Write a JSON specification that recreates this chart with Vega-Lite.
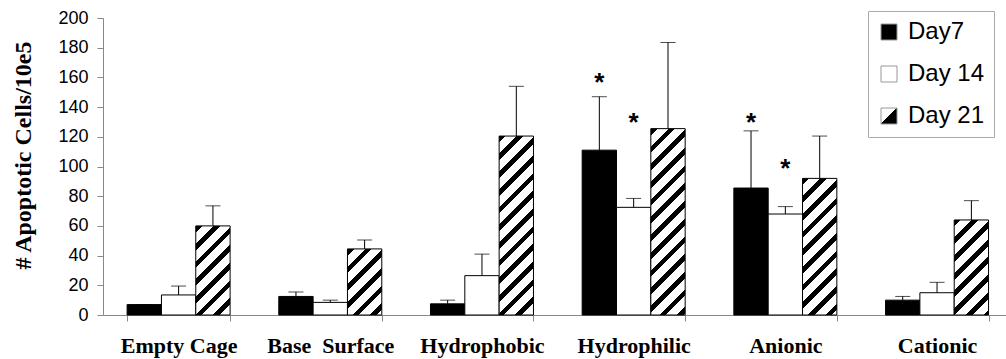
{
  "$schema": "https://vega.github.io/schema/vega-lite/v6.json",
  "width": 903,
  "height": 297,
  "autosize": "none",
  "padding": {"left": 103, "top": 18, "right": 0, "bottom": 44},
  "background": "white",
  "config": {"view": {"stroke": null}, "axis": {"grid": false}},
  "datasets": {
    "bars": [
      {"group": "Empty Cage", "series": "Day7", "value": 7, "err": 7},
      {"group": "Empty Cage", "series": "Day 14", "value": 13.5, "err": 19.5},
      {"group": "Empty Cage", "series": "Day 21", "value": 60, "err": 73.5},
      {"group": "Base Surface", "series": "Day7", "value": 12.5, "err": 15.5},
      {"group": "Base Surface", "series": "Day 14", "value": 8.5, "err": 10},
      {"group": "Base Surface", "series": "Day 21", "value": 44.5, "err": 50.5},
      {"group": "Hydrophobic", "series": "Day7", "value": 7.5, "err": 10},
      {"group": "Hydrophobic", "series": "Day 14", "value": 26.5, "err": 41},
      {"group": "Hydrophobic", "series": "Day 21", "value": 120.5, "err": 154},
      {"group": "Hydrophilic", "series": "Day7", "value": 111, "err": 147},
      {"group": "Hydrophilic", "series": "Day 14", "value": 72.5, "err": 78.5},
      {"group": "Hydrophilic", "series": "Day 21", "value": 125.5, "err": 183.5},
      {"group": "Anionic", "series": "Day7", "value": 85.5, "err": 124},
      {"group": "Anionic", "series": "Day 14", "value": 68, "err": 73},
      {"group": "Anionic", "series": "Day 21", "value": 92, "err": 120.5},
      {"group": "Cationic", "series": "Day7", "value": 10, "err": 12.5},
      {"group": "Cationic", "series": "Day 14", "value": 15, "err": 22},
      {"group": "Cationic", "series": "Day 21", "value": 64, "err": 77}
    ],
    "stars": [
      {"group": "Hydrophilic", "series": "Day7", "y": 161},
      {"group": "Hydrophilic", "series": "Day 14", "y": 134},
      {"group": "Anionic", "series": "Day7", "y": 134},
      {"group": "Anionic", "series": "Day 14", "y": 103}
    ]
  },
  "encoding": {
    "x": {
      "field": "group",
      "type": "nominal",
      "sort": ["Empty Cage", "Base Surface", "Hydrophobic", "Hydrophilic", "Anionic", "Cationic"],
      "scale": {"domain": ["Empty Cage", "Base Surface", "Hydrophobic", "Hydrophilic", "Anionic", "Cationic"], "paddingInner": 0.321, "paddingOuter": 0.137, "align": 0.58},
      "axis": {
        "title": null,
        "labelAngle": 0,
        "labelFont": "Liberation Serif",
        "labelFontWeight": "bold",
        "labelFontSize": 22,
        "labelColor": "#000",
        "labelBaseline": "alphabetic",
        "labelPadding": 31,
        "labelOverlap": false,
        "tickBand": "extent",
        "tickSize": 6,
        "tickColor": "#888",
        "domainColor": "#888",
        "labelExpr": "datum.label === 'Base Surface' ? 'Base\u00a0 Surface' : datum.label"
      }
    },
    "xOffset": {
      "field": "series",
      "type": "nominal",
      "sort": ["Day7", "Day 14", "Day 21"],
      "scale": {"domain": ["Day7", "Day 14", "Day 21"], "paddingInner": 0, "paddingOuter": 0}
    }
  },
  "layer": [
    {
      "data": {"name": "bars"},
      "mark": {"type": "bar", "stroke": "#000", "strokeWidth": 1},
      "encoding": {
        "y": {
          "field": "value",
          "type": "quantitative",
          "scale": {"domain": [0, 200], "nice": false},
          "axis": {"title": "# Apoptotic Cells/10e5", "titleFont": "Liberation Serif", "titleFontWeight": "bold", "titleFontSize": 24, "titleColor": "#000", "titleX": -73, "titleY": 137, "titleBaseline": "alphabetic", "titleAlign": "center", "titleAngle": -90, "values": [0, 20, 40, 60, 80, 100, 120, 140, 160, 180, 200], "labelOverlap": false, "labelSeparation": -10, "labelFont": "Liberation Sans", "labelFontSize": 18, "labelColor": "#000", "tickSize": 6, "labelPadding": 9, "tickColor": "#888", "domainColor": "#888"}
        },
        "fill": {
          "field": "series",
          "type": "nominal",
          "scale": {
            "domain": ["Day7", "Day 14", "Day 21"],
            "range": ["#000", "#fff", {"expr": "{gradient:'linear',x1:0,y1:0,x2:1,y2:1,stops:[{offset:0,color:'#fff'},{offset:0.5,color:'#fff'},{offset:0.5,color:'#000'},{offset:1,color:'#000'}]}"}]
          },
          "legend": {
            "title": null,
            "orient": "none",
            "legendX": 765,
            "legendY": -7,
            "direction": "vertical",
            "symbolType": "square",
            "symbolSize": 256,
            "symbolStrokeColor": "#999",
            "symbolStrokeWidth": 1,
            "labelFont": "Liberation Sans",
            "labelFontSize": 24,
            "labelColor": "#000",
            "labelOffset": 7,
            "rowPadding": 18,
            "padding": 9,
            "strokeColor": "#aaa",
            "fillColor": "#fff"
          },
          "condition": [
            {"test": "datum.series === 'Day 21' && datum.group === 'Empty Cage'", "value": {"gradient": "linear", "x1": 0, "y1": 0, "x2": 0.4648, "y2": 1.2062, "stops": [
              {"offset": 0, "color": "#000"}, {"offset": 0.0545, "color": "#000"}, {"offset": 0.0545, "color": "#fff"}, {"offset": 0.1434, "color": "#fff"},
              {"offset": 0.1434, "color": "#000"}, {"offset": 0.1979, "color": "#000"}, {"offset": 0.1979, "color": "#fff"}, {"offset": 0.2868, "color": "#fff"},
              {"offset": 0.2868, "color": "#000"}, {"offset": 0.3413, "color": "#000"}, {"offset": 0.3413, "color": "#fff"}, {"offset": 0.4302, "color": "#fff"},
              {"offset": 0.4302, "color": "#000"}, {"offset": 0.4847, "color": "#000"}, {"offset": 0.4847, "color": "#fff"}, {"offset": 0.5736, "color": "#fff"},
              {"offset": 0.5736, "color": "#000"}, {"offset": 0.6281, "color": "#000"}, {"offset": 0.6281, "color": "#fff"}, {"offset": 0.717, "color": "#fff"},
              {"offset": 0.717, "color": "#000"}, {"offset": 0.7715, "color": "#000"}, {"offset": 0.7715, "color": "#fff"}, {"offset": 0.8604, "color": "#fff"},
              {"offset": 0.8604, "color": "#000"}, {"offset": 0.9149, "color": "#000"}, {"offset": 0.9149, "color": "#fff"}, {"offset": 1, "color": "#fff"}]}},
            {"test": "datum.series === 'Day 21' && datum.group === 'Base Surface'", "value": {"gradient": "linear", "x1": 0, "y1": 0, "x2": 0.6215, "y2": 1.1966, "stops": [
              {"offset": 0, "color": "#000"}, {"offset": 0.067, "color": "#000"}, {"offset": 0.067, "color": "#fff"}, {"offset": 0.1762, "color": "#fff"},
              {"offset": 0.1762, "color": "#000"}, {"offset": 0.2432, "color": "#000"}, {"offset": 0.2432, "color": "#fff"}, {"offset": 0.3525, "color": "#fff"},
              {"offset": 0.3525, "color": "#000"}, {"offset": 0.4194, "color": "#000"}, {"offset": 0.4194, "color": "#fff"}, {"offset": 0.5287, "color": "#fff"},
              {"offset": 0.5287, "color": "#000"}, {"offset": 0.5957, "color": "#000"}, {"offset": 0.5957, "color": "#fff"}, {"offset": 0.705, "color": "#fff"},
              {"offset": 0.705, "color": "#000"}, {"offset": 0.7719, "color": "#000"}, {"offset": 0.7719, "color": "#fff"}, {"offset": 0.8812, "color": "#fff"},
              {"offset": 0.8812, "color": "#000"}, {"offset": 0.9482, "color": "#000"}, {"offset": 0.9482, "color": "#fff"}, {"offset": 1, "color": "#fff"}]}},
            {"test": "datum.series === 'Day 21' && datum.group === 'Hydrophobic'", "value": {"gradient": "linear", "x1": 0, "y1": 0, "x2": 0.2206, "y2": 1.1496, "stops": [
              {"offset": 0, "color": "#000"}, {"offset": 0.0315, "color": "#000"}, {"offset": 0.0315, "color": "#fff"}, {"offset": 0.083, "color": "#fff"},
              {"offset": 0.083, "color": "#000"}, {"offset": 0.1145, "color": "#000"}, {"offset": 0.1145, "color": "#fff"}, {"offset": 0.166, "color": "#fff"},
              {"offset": 0.166, "color": "#000"}, {"offset": 0.1975, "color": "#000"}, {"offset": 0.1975, "color": "#fff"}, {"offset": 0.249, "color": "#fff"},
              {"offset": 0.249, "color": "#000"}, {"offset": 0.2805, "color": "#000"}, {"offset": 0.2805, "color": "#fff"}, {"offset": 0.332, "color": "#fff"},
              {"offset": 0.332, "color": "#000"}, {"offset": 0.3635, "color": "#000"}, {"offset": 0.3635, "color": "#fff"}, {"offset": 0.415, "color": "#fff"},
              {"offset": 0.415, "color": "#000"}, {"offset": 0.4465, "color": "#000"}, {"offset": 0.4465, "color": "#fff"}, {"offset": 0.4981, "color": "#fff"},
              {"offset": 0.4981, "color": "#000"}, {"offset": 0.5296, "color": "#000"}, {"offset": 0.5296, "color": "#fff"}, {"offset": 0.5811, "color": "#fff"},
              {"offset": 0.5811, "color": "#000"}, {"offset": 0.6126, "color": "#000"}, {"offset": 0.6126, "color": "#fff"}, {"offset": 0.6641, "color": "#fff"},
              {"offset": 0.6641, "color": "#000"}, {"offset": 0.6956, "color": "#000"}, {"offset": 0.6956, "color": "#fff"}, {"offset": 0.7471, "color": "#fff"},
              {"offset": 0.7471, "color": "#000"}, {"offset": 0.7786, "color": "#000"}, {"offset": 0.7786, "color": "#fff"}, {"offset": 0.8301, "color": "#fff"},
              {"offset": 0.8301, "color": "#000"}, {"offset": 0.8616, "color": "#000"}, {"offset": 0.8616, "color": "#fff"}, {"offset": 0.9131, "color": "#fff"},
              {"offset": 0.9131, "color": "#000"}, {"offset": 0.9446, "color": "#000"}, {"offset": 0.9446, "color": "#fff"}, {"offset": 0.9961, "color": "#fff"},
              {"offset": 0.9961, "color": "#000"}, {"offset": 1, "color": "#000"}]}},
            {"test": "datum.series === 'Day 21' && datum.group === 'Hydrophilic'", "value": {"gradient": "linear", "x1": 0, "y1": 0, "x2": 0.2109, "y2": 1.1453, "stops": [
              {"offset": 0, "color": "#000"}, {"offset": 0.0305, "color": "#000"}, {"offset": 0.0305, "color": "#fff"}, {"offset": 0.0802, "color": "#fff"},
              {"offset": 0.0802, "color": "#000"}, {"offset": 0.1107, "color": "#000"}, {"offset": 0.1107, "color": "#fff"}, {"offset": 0.1604, "color": "#fff"},
              {"offset": 0.1604, "color": "#000"}, {"offset": 0.1908, "color": "#000"}, {"offset": 0.1908, "color": "#fff"}, {"offset": 0.2406, "color": "#fff"},
              {"offset": 0.2406, "color": "#000"}, {"offset": 0.271, "color": "#000"}, {"offset": 0.271, "color": "#fff"}, {"offset": 0.3208, "color": "#fff"},
              {"offset": 0.3208, "color": "#000"}, {"offset": 0.3512, "color": "#000"}, {"offset": 0.3512, "color": "#fff"}, {"offset": 0.4009, "color": "#fff"},
              {"offset": 0.4009, "color": "#000"}, {"offset": 0.4314, "color": "#000"}, {"offset": 0.4314, "color": "#fff"}, {"offset": 0.4811, "color": "#fff"},
              {"offset": 0.4811, "color": "#000"}, {"offset": 0.5116, "color": "#000"}, {"offset": 0.5116, "color": "#fff"}, {"offset": 0.5613, "color": "#fff"},
              {"offset": 0.5613, "color": "#000"}, {"offset": 0.5918, "color": "#000"}, {"offset": 0.5918, "color": "#fff"}, {"offset": 0.6415, "color": "#fff"},
              {"offset": 0.6415, "color": "#000"}, {"offset": 0.672, "color": "#000"}, {"offset": 0.672, "color": "#fff"}, {"offset": 0.7217, "color": "#fff"},
              {"offset": 0.7217, "color": "#000"}, {"offset": 0.7522, "color": "#000"}, {"offset": 0.7522, "color": "#fff"}, {"offset": 0.8019, "color": "#fff"},
              {"offset": 0.8019, "color": "#000"}, {"offset": 0.8324, "color": "#000"}, {"offset": 0.8324, "color": "#fff"}, {"offset": 0.8821, "color": "#fff"},
              {"offset": 0.8821, "color": "#000"}, {"offset": 0.9125, "color": "#000"}, {"offset": 0.9125, "color": "#fff"}, {"offset": 0.9623, "color": "#fff"},
              {"offset": 0.9623, "color": "#000"}, {"offset": 0.9927, "color": "#000"}, {"offset": 0.9927, "color": "#fff"}, {"offset": 1, "color": "#fff"}]}},
            {"test": "datum.series === 'Day 21' && datum.group === 'Anionic'", "value": {"gradient": "linear", "x1": 0, "y1": 0, "x2": 0.2958, "y2": 1.177, "stops": [
              {"offset": 0, "color": "#000"}, {"offset": 0.0394, "color": "#000"}, {"offset": 0.0394, "color": "#fff"}, {"offset": 0.1036, "color": "#fff"},
              {"offset": 0.1036, "color": "#000"}, {"offset": 0.1429, "color": "#000"}, {"offset": 0.1429, "color": "#fff"}, {"offset": 0.2071, "color": "#fff"},
              {"offset": 0.2071, "color": "#000"}, {"offset": 0.2465, "color": "#000"}, {"offset": 0.2465, "color": "#fff"}, {"offset": 0.3107, "color": "#fff"},
              {"offset": 0.3107, "color": "#000"}, {"offset": 0.35, "color": "#000"}, {"offset": 0.35, "color": "#fff"}, {"offset": 0.4142, "color": "#fff"},
              {"offset": 0.4142, "color": "#000"}, {"offset": 0.4536, "color": "#000"}, {"offset": 0.4536, "color": "#fff"}, {"offset": 0.5178, "color": "#fff"},
              {"offset": 0.5178, "color": "#000"}, {"offset": 0.5571, "color": "#000"}, {"offset": 0.5571, "color": "#fff"}, {"offset": 0.6213, "color": "#fff"},
              {"offset": 0.6213, "color": "#000"}, {"offset": 0.6607, "color": "#000"}, {"offset": 0.6607, "color": "#fff"}, {"offset": 0.7249, "color": "#fff"},
              {"offset": 0.7249, "color": "#000"}, {"offset": 0.7642, "color": "#000"}, {"offset": 0.7642, "color": "#fff"}, {"offset": 0.8284, "color": "#fff"},
              {"offset": 0.8284, "color": "#000"}, {"offset": 0.8678, "color": "#000"}, {"offset": 0.8678, "color": "#fff"}, {"offset": 0.932, "color": "#fff"},
              {"offset": 0.932, "color": "#000"}, {"offset": 0.9713, "color": "#000"}, {"offset": 0.9713, "color": "#fff"}, {"offset": 1, "color": "#fff"}]}},
            {"test": "datum.series === 'Day 21' && datum.group === 'Cationic'", "value": {"gradient": "linear", "x1": 0, "y1": 0, "x2": 0.4351, "y2": 1.2041, "stops": [
              {"offset": 0, "color": "#000"}, {"offset": 0.052, "color": "#000"}, {"offset": 0.052, "color": "#fff"}, {"offset": 0.1369, "color": "#fff"},
              {"offset": 0.1369, "color": "#000"}, {"offset": 0.1889, "color": "#000"}, {"offset": 0.1889, "color": "#fff"}, {"offset": 0.2737, "color": "#fff"},
              {"offset": 0.2737, "color": "#000"}, {"offset": 0.3257, "color": "#000"}, {"offset": 0.3257, "color": "#fff"}, {"offset": 0.4106, "color": "#fff"},
              {"offset": 0.4106, "color": "#000"}, {"offset": 0.4626, "color": "#000"}, {"offset": 0.4626, "color": "#fff"}, {"offset": 0.5474, "color": "#fff"},
              {"offset": 0.5474, "color": "#000"}, {"offset": 0.5994, "color": "#000"}, {"offset": 0.5994, "color": "#fff"}, {"offset": 0.6843, "color": "#fff"},
              {"offset": 0.6843, "color": "#000"}, {"offset": 0.7363, "color": "#000"}, {"offset": 0.7363, "color": "#fff"}, {"offset": 0.8212, "color": "#fff"},
              {"offset": 0.8212, "color": "#000"}, {"offset": 0.8732, "color": "#000"}, {"offset": 0.8732, "color": "#fff"}, {"offset": 0.958, "color": "#fff"},
              {"offset": 0.958, "color": "#000"}, {"offset": 1, "color": "#000"}]}}
          ]
        }
      }
    },
    {
      "data": {"name": "bars"},
      "mark": {"type": "rule", "color": "#000", "strokeWidth": 1},
      "encoding": {
        "y": {"field": "value", "type": "quantitative",
          "axis": {"title": "# Apoptotic Cells/10e5", "titleFont": "Liberation Serif", "titleFontWeight": "bold", "titleFontSize": 24, "titleColor": "#000", "titleX": -73, "titleY": 137, "titleBaseline": "alphabetic", "titleAlign": "center", "titleAngle": -90, "values": [0, 20, 40, 60, 80, 100, 120, 140, 160, 180, 200], "labelOverlap": false, "labelSeparation": -10, "labelFont": "Liberation Sans", "labelFontSize": 18, "labelColor": "#000", "tickSize": 6, "labelPadding": 9, "tickColor": "#888", "domainColor": "#888"}},
        "y2": {"field": "err"}
      }
    },
    {
      "data": {"name": "bars"},
      "mark": {"type": "tick", "color": "#000", "thickness": 1, "size": 15, "orient": "horizontal"},
      "encoding": {
        "y": {"field": "err", "type": "quantitative",
          "axis": {"title": "# Apoptotic Cells/10e5", "titleFont": "Liberation Serif", "titleFontWeight": "bold", "titleFontSize": 24, "titleColor": "#000", "titleX": -73, "titleY": 137, "titleBaseline": "alphabetic", "titleAlign": "center", "titleAngle": -90, "values": [0, 20, 40, 60, 80, 100, 120, 140, 160, 180, 200], "labelOverlap": false, "labelSeparation": -10, "labelFont": "Liberation Sans", "labelFontSize": 18, "labelColor": "#000", "tickSize": 6, "labelPadding": 9, "tickColor": "#888", "domainColor": "#888"}}
      }
    },
    {
      "data": {"name": "stars"},
      "mark": {"type": "text", "text": "*", "font": "Liberation Sans", "fontWeight": "bold", "fontSize": 26, "baseline": "alphabetic", "dy": 15, "color": "#000"},
      "encoding": {
        "y": {"field": "y", "type": "quantitative",
          "axis": {"title": "# Apoptotic Cells/10e5", "titleFont": "Liberation Serif", "titleFontWeight": "bold", "titleFontSize": 24, "titleColor": "#000", "titleX": -73, "titleY": 137, "titleBaseline": "alphabetic", "titleAlign": "center", "titleAngle": -90, "values": [0, 20, 40, 60, 80, 100, 120, 140, 160, 180, 200], "labelOverlap": false, "labelSeparation": -10, "labelFont": "Liberation Sans", "labelFontSize": 18, "labelColor": "#000", "tickSize": 6, "labelPadding": 9, "tickColor": "#888", "domainColor": "#888"}}
      }
    }
  ]
}
